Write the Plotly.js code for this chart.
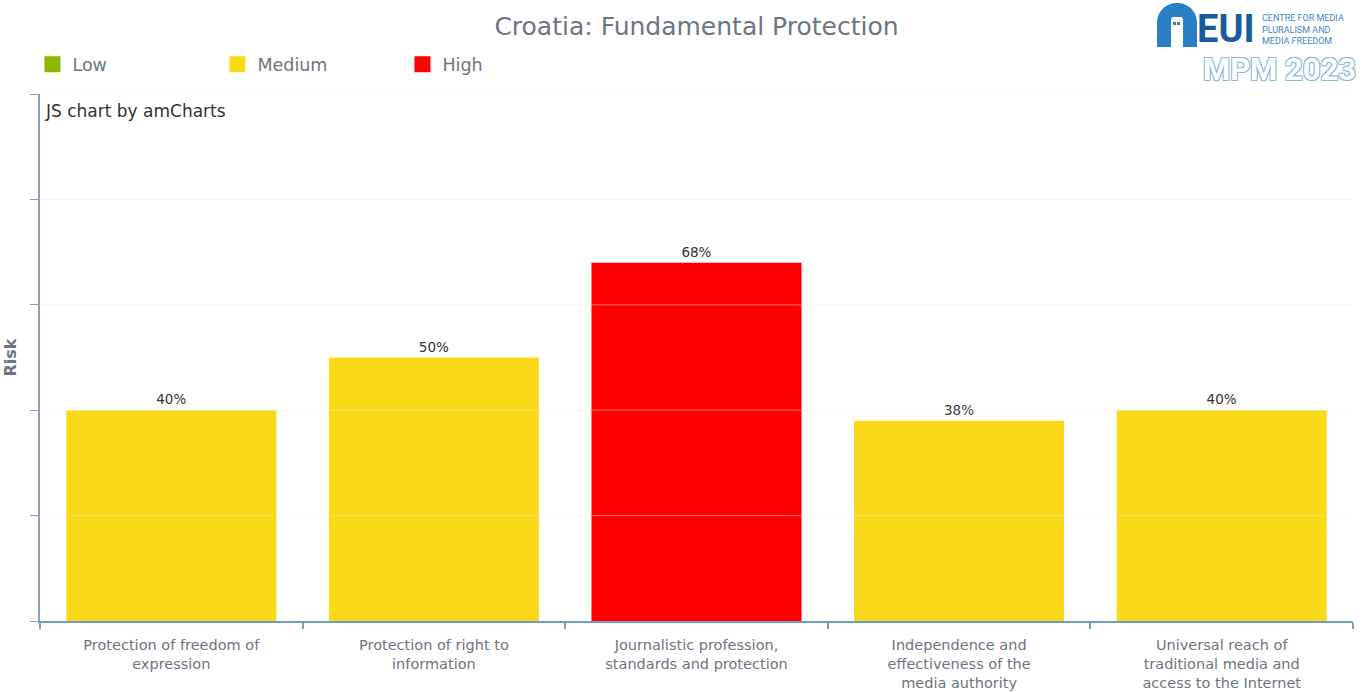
<!DOCTYPE html>
<html>
<head>
<meta charset="utf-8">
<script src="https://cdn.plot.ly/plotly-3.0.1.min.js"></script>
<style>
html,body{margin:0;padding:0;background:#fff;}
#chart{width:1363px;height:692px;}
</style>
</head>
<body>
<div id="chart"></div>
<script>
// ---- data ----
const categories = [
  "Protection of freedom of<br>expression",
  "Protection of right to<br>information",
  "Journalistic profession,<br>standards and protection",
  "Independence and<br>effectiveness of the<br>media authority",
  "Universal reach of<br>traditional media and<br>access to the Internet"
];
const riskValues = [40, 50, 68, 38, 40];
const riskLevels = ["Medium", "Medium", "High", "Medium", "Medium"];
const levelNames = ["Low", "Medium", "High"];
const levelColors = ["#8cb800", "#fad918", "#ff0000"];
const gridTicks = [20, 40, 60, 80, 100];

const colorOf = lvl => levelColors[levelNames.indexOf(lvl)];

const FONT = "DejaVu Sans, Verdana, sans-serif";
const GREY = "#6b7680";

// pixel -> paper helpers for decorative header items (plot area 40..1353 x 94..621)
const px = p => (p - 40) / 1313;
const py = p => (621 - p) / 527;

const traces = [{
  type: "bar",
  x: categories,
  y: riskValues,
  marker: {color: riskLevels.map(colorOf)},
  text: riskValues.map(v => v + "%"),
  textposition: "outside",
  textfont: {family: FONT, size: 13.5, color: "#333"},
  cliponaxis: false,
  hoverinfo: "x+y",
  showlegend: false
}];
levelNames.forEach((name, i) => {
  traces.push({
    type: "scatter",
    mode: "markers",
    x: [null], y: [null],
    name: name,
    marker: {symbol: "square", size: 22, color: levelColors[i]},
    showlegend: true
  });
});

const shapes = gridTicks.map(v => ({
  type: "line", xref: "paper", x0: 0, x1: 1, yref: "y", y0: v, y1: v,
  line: {color: "rgba(235,235,235,0.45)", width: 1}, layer: "above"
}));
// EUI logo arch (decorative)
const logoAnchor = {xref: "paper", yref: "paper", xsizemode: "pixel", ysizemode: "pixel",
  xanchor: px(1157), yanchor: py(47), layer: "above", type: "path"};
shapes.push(Object.assign({}, logoAnchor, {
  path: "M 0 0 L 0 24 C 0 36 9 44 20 44 C 31 44 40 36 40 24 L 40 0 Z",
  fillcolor: "#2b80c5", line: {width: 0}
}));
shapes.push(Object.assign({}, logoAnchor, {
  path: "M 14 0 L 14 27 Q 14 30 17 30 L 23 30 Q 26 30 26 27 L 26 0 Z",
  fillcolor: "#ffffff", line: {width: 0}
}));
shapes.push(Object.assign({}, logoAnchor, {
  path: "M 16 22 L 19 22 L 19 25 L 16 25 Z M 20 22 L 23 22 L 23 25 L 20 25 Z",
  fillcolor: "#2b80c5", line: {width: 0}
}));

const layout = {
  width: 1363, height: 692,
  margin: {l: 40, r: 10, t: 94, b: 71},
  paper_bgcolor: "#fff", plot_bgcolor: "#fff",
  font: {family: FONT, color: GREY},
  title: {
    text: "Croatia: Fundamental Protection",
    x: 0.511, xanchor: "center", xref: "container",
    y: 0.962, yanchor: "middle", yref: "container",
    font: {family: FONT, size: 25, color: GREY}
  },
  showlegend: true,
  legend: {
    orientation: "h",
    xref: "container", yref: "container",
    x: 0.0238, xanchor: "left",
    y: 0.907, yanchor: "middle",
    font: {family: FONT, size: 17.5, color: GREY},
    entrywidth: 140,
    bgcolor: "rgba(0,0,0,0)"
  },
  bargap: 0.2,
  xaxis: {
    type: "category",
    showgrid: false,
    showline: true, linecolor: "#6f9fbf", linewidth: 1.5,
    ticks: "outside", tickson: "boundaries", ticklen: 6, tickcolor: "#6f9fbf", tickwidth: 1.5,
    ticklabelstandoff: 10,
    tickfont: {family: FONT, size: 14.5, color: GREY},
    tickangle: 0,
    fixedrange: true
  },
  yaxis: {
    range: [0, 100],
    tickvals: gridTicks.concat([0]),
    showticklabels: false,
    ticks: "outside", ticklen: 8, tickcolor: "#8fa0ad",
    showline: true, linecolor: "#8fa0ad", linewidth: 1.5,
    showgrid: false, zeroline: false,
    title: {text: "<b>Risk</b>", standoff: 10, font: {family: FONT, size: 16, color: GREY}},
    fixedrange: true
  },
  shapes: shapes,
  annotations: [
    {
      text: "JS chart by amCharts", xref: "paper", yref: "paper",
      x: 0, y: 1, xanchor: "left", yanchor: "top", xshift: 3, yshift: -5,
      showarrow: false, font: {family: FONT, size: 17, color: "#333"}
    },
    {
      text: "<b>EUI</b>", xref: "paper", yref: "paper",
      x: px(1195), y: py(29), xanchor: "left", yanchor: "middle",
      showarrow: false, font: {family: "Roboto, sans-serif", size: 38, color: "#1b5a99"}
    },
    {
      text: "CENTRE FOR MEDIA<br>PLURALISM AND<br>MEDIA FREEDOM", xref: "paper", yref: "paper",
      x: px(1260), y: py(29), xanchor: "left", yanchor: "middle", align: "left",
      showarrow: false, font: {family: "Roboto, sans-serif", size: 9, color: "#3f86c6"}
    },
    {
      text: "<b>MPM 2023</b>", xref: "paper", yref: "paper",
      x: px(1358), y: py(69), xanchor: "right", yanchor: "middle",
      showarrow: false,
      font: {family: "Roboto, sans-serif", size: 31, color: "#ffffff",
        shadow: "-1px -1px 0 #8ab8de, 1px -1px 0 #8ab8de, -1px 1px 0 #8ab8de, 1px 1px 0 #8ab8de"}
    }
  ]
};

Plotly.newPlot("chart", traces, layout, {displayModeBar: false});
</script>
</body>
</html>
